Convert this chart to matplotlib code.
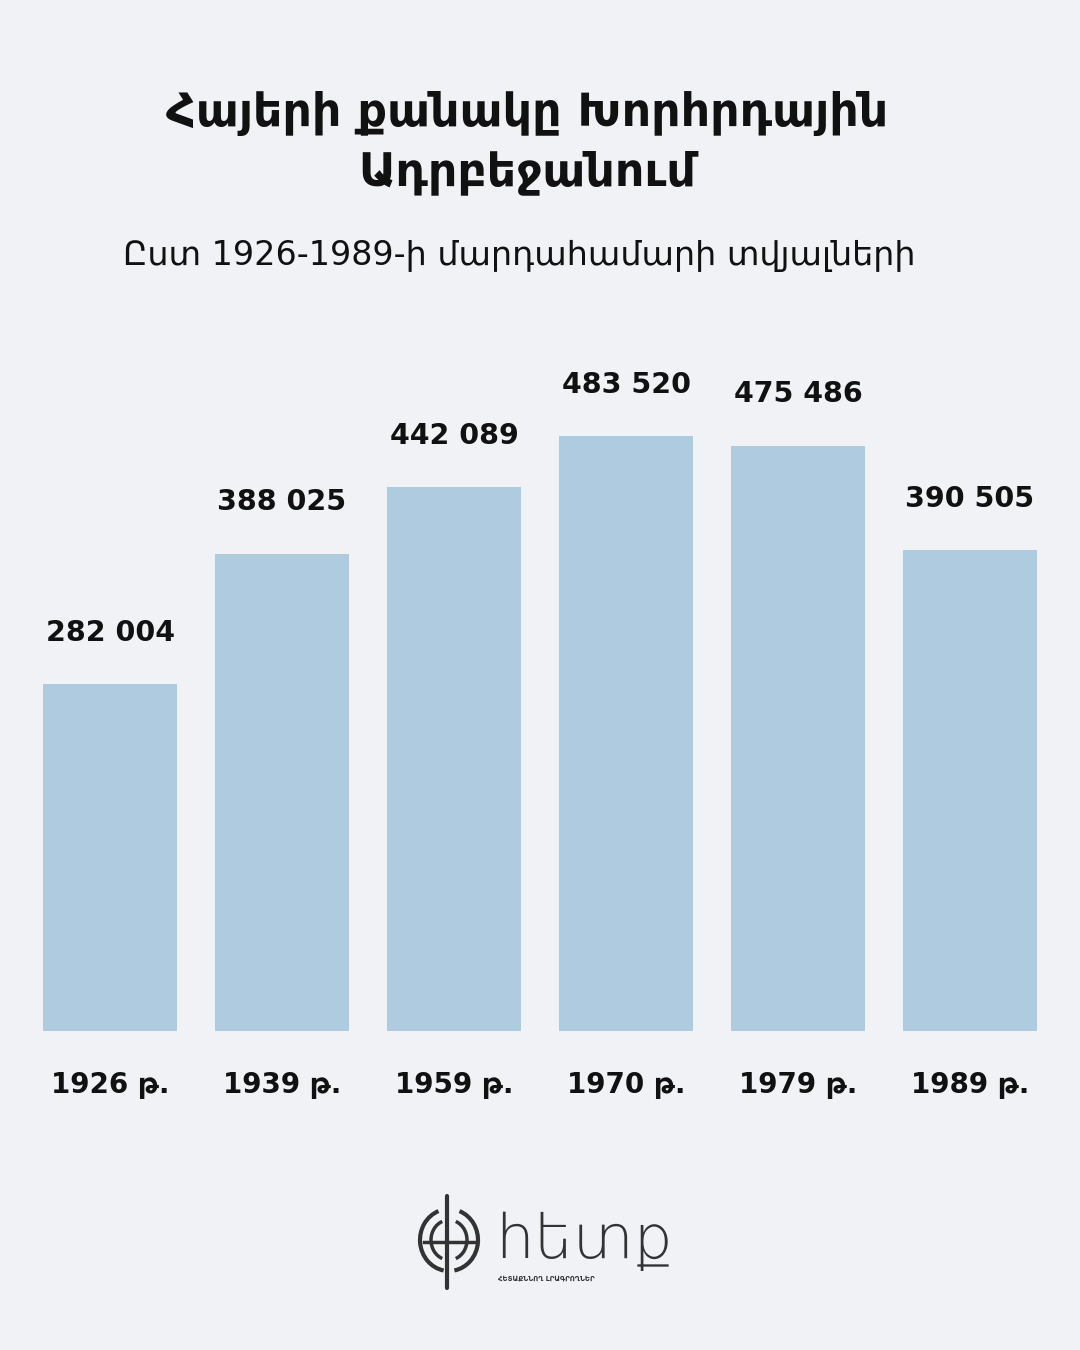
import matplotlib
matplotlib.use('Agg')
import numpy as np
from matplotlib import pyplot as plt
from matplotlib.patches import Arc

# data
years = ['1926 թ.', '1939 թ.', '1959 թ.', '1970 թ.', '1979 թ.', '1989 թ.']
armenians = [282004, 388025, 442089, 483520, 475486, 390505]
value_labels = ['282 004', '388 025', '442 089', '483 520', '475 486', '390 505']

title = 'Հայերի քանակը Խորհրդային\nԱդրբեջանում'
subtitle = 'Ըստ 1926-1989-ի մարդահամարի տվյալների'

bg = '#f0f2f6'
bar_color = '#afcbe0'

plt.rcParams['font.family'] = ['DejaVu Sans']

W, H = 1080, 1350
fig = plt.figure(figsize=(W / 100, H / 100), dpi=100, facecolor=bg)

# bar axes: bottom at y=1031px, 700px tall, 172px per category
ax = fig.add_axes([24 / W, (H - 1031) / H, 1032 / W, 700 / H])
ax.set_facecolor(bg)
x = np.arange(len(years))
ax.bar(x, armenians, width=0.779, color=bar_color)
ax.set_xlim(-0.5, 5.5)
ax.set_ylim(0, 700 * 483520 / 595)
for xi, v, lab in zip(x, armenians, value_labels):
    ax.annotate(lab, (xi, v), xytext=(0, 37), textcoords='offset points',
                ha='center', va='center', fontsize=20.5, fontweight='bold', color='#111111')
ax.set_xticks(x)
ax.set_xticklabels(years, fontsize=20, fontweight='bold', color='#111111')
ax.tick_params(axis='x', length=0, pad=29)
ax.set_yticks([])
for s in ax.spines.values():
    s.set_visible(False)

# titles
fig.text(527 / W, 1 - 143 / H, title, ha='center', va='center', fontsize=33,
         fontweight='bold', color='#111111', linespacing=1.4)
fig.text(519 / W, 1 - 256 / H, subtitle, ha='center', va='center', fontsize=24,
         color='#111111')

# logo
lg = fig.add_axes([0, 0, 1, 1], facecolor='none')
lg.set_xlim(0, W)
lg.set_ylim(H, 0)
lg.set_aspect('equal')
lg.axis('off')
c = (449, 1240)
ink = '#333333'
lg.add_patch(Arc(c, 58, 62, theta1=100, theta2=250, lw=3, color=ink))
lg.add_patch(Arc(c, 58, 62, theta1=-70, theta2=80, lw=3, color=ink))
lg.add_patch(Arc(c, 36, 40, theta1=110, theta2=250, lw=2.5, color=ink))
lg.add_patch(Arc(c, 36, 40, theta1=-70, theta2=70, lw=2.5, color=ink))
lg.plot([424, 474], [1242, 1242], color=ink, lw=2.5)
lg.plot([447, 447], [1196, 1288], color=ink, lw=3, solid_capstyle='round')
lg.text(495, 1258, 'հետք', fontsize=44, color=ink, ha='left', va='baseline',
        fontweight='light')
lg.text(498, 1279, 'ՀԵՏԱՔՆՆՈՂ ԼՐԱԳՐՈՂՆԵՐ', fontsize=5, color=ink, ha='left',
        va='center', fontweight='bold')

fig.savefig('out.png', dpi=100, facecolor=bg)
